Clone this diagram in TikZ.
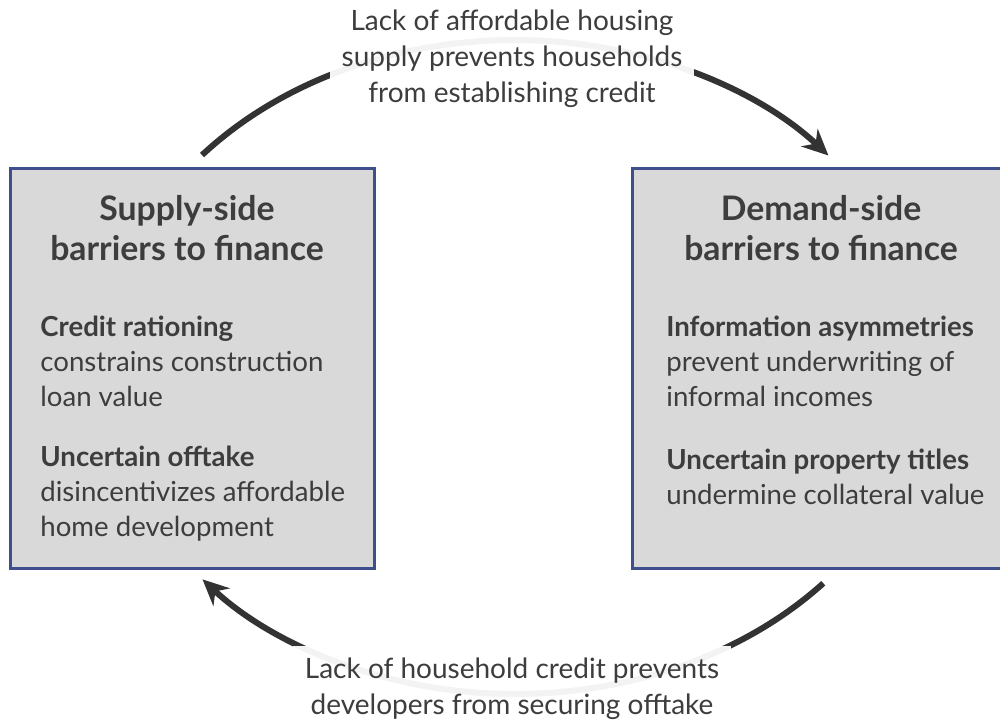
\documentclass[tikz,border=0pt]{standalone}
\usepackage{fontspec}
\setmainfont{Lato}
\usepackage{tikz}
\usetikzlibrary{arrows.meta,positioning}

\definecolor{boxfill}{HTML}{D9D9D9}
\definecolor{boxedge}{HTML}{3F4E8C}
\definecolor{inkgray}{HTML}{3D3D3D}
\definecolor{arcgray}{HTML}{333333}

\tikzset{
  barrier/.style={draw=boxedge, line width=1.5pt, fill=boxfill, minimum width=182pt, minimum height=200pt, inner sep=0pt},
  heading/.style={font=\fontsize{16.9}{20}\selectfont\bfseries, text=inkgray, align=center},
  itemtext/.style={font=\fontsize{13.8}{17.5}\selectfont, text=inkgray, align=left, anchor=west, inner sep=0pt},
  cycletext/.style={font=\fontsize{14}{18}\selectfont, text=inkgray, align=center, fill=white, fill opacity=.94, text opacity=1, inner sep=6pt},
  flow/.style={draw=arcgray, line width=3pt, -{Stealth[length=13pt,width=12pt]}},
}

\begin{document}
\begin{tikzpicture}[x=0.5pt,y=0.5pt]
      \clip (0,0) rectangle (1000,-724);

      %% the two boxes
      \node (supply) at (192,-368) [barrier] {};
      \node (demand) at (821,-368) [barrier, minimum width=189pt] {};

      \node (supplyhead) at (187,-228) [heading] {Supply-side\\barriers to finance};
      \node (rationing) at (40,-361) [itemtext] {\textbf{Credit rationing}\\constrains construction\\loan value};
      \node (offtake) at (40,-494) [itemtext] {\textbf{Uncertain offtake}\\disincentivizes affordable\\home development};

      \node (demandhead) at (821,-228) [heading] {Demand-side\\barriers to finance};
      \node (asymmetry) at (666,-361) [itemtext] {\textbf{Information asymmetries}\\prevent underwriting of\\informal incomes};
      \node (titles) at (666,-476.5) [itemtext] {\textbf{Uncertain property titles}\\undermine collateral value};

      %% the cycle
      \coordinate (hub) at (515,-367);
      \path (hub) ++(139.6:411 and 327) coordinate (topstart);
      \path (hub) ++(-41.4:411 and 327) coordinate (botstart);

      \draw[flow] (topstart) arc[start angle=139.6, end angle=40.3, x radius=411, y radius=327];
      \draw[flow] (botstart) arc[start angle=-41.4, end angle=-139.5, x radius=411, y radius=327];

      \node (toptext) at (512,-59) [cycletext] {Lack of affordable housing\\supply prevents households\\from establishing credit};
      \node (bottomtext) at (512,-689) [cycletext] {Lack of household credit prevents\\developers from securing offtake};

    \end{tikzpicture}
\end{document}
